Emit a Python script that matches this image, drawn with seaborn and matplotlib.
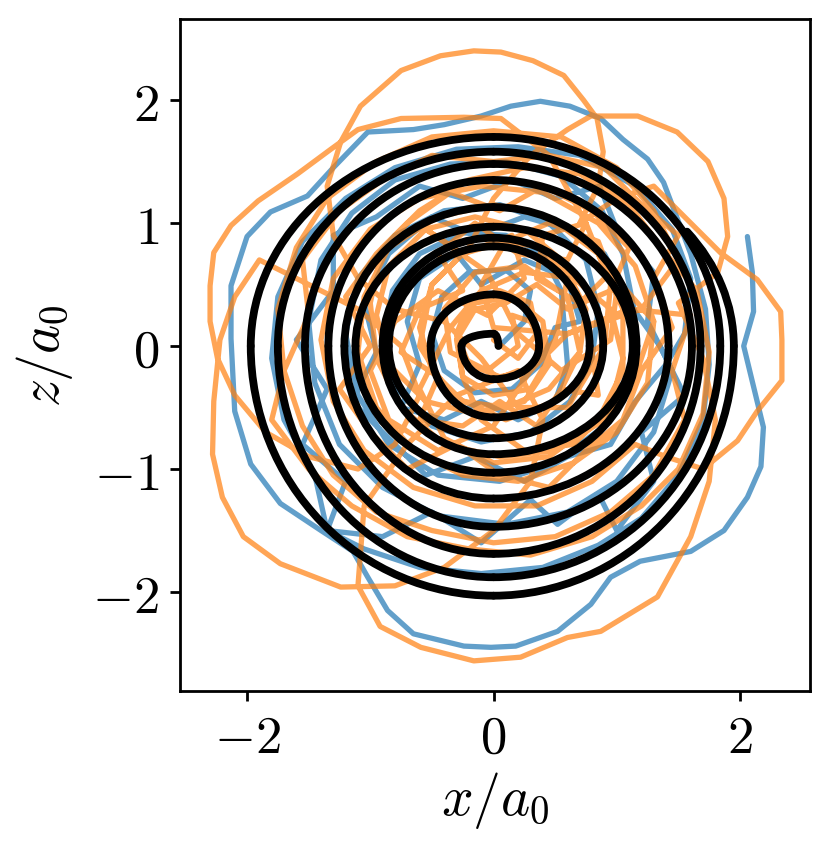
import numpy as np
import pandas as pd
import matplotlib
matplotlib.use("Agg")
import matplotlib.pyplot as plt
import seaborn as sns
from matplotlib.patches import Arc

# ---------------- data (units of a0) ----------------
# Black trajectory: radius of the curve where it crosses the axes directions,
# every quarter turn counter-clockwise starting at angle 0 (right), 90 (top), ...
black_quarter_r = [0.04, 0.10, 0.26, 0.27, 0.37, 0.42, 0.51, 0.58, 0.78, 0.81,
                   0.85, 0.75, 0.89, 0.88, 0.90, 0.88, 1.13, 0.97, 1.12, 1.03,
                   1.16, 1.13, 1.21, 1.24, 1.42, 1.35, 1.34, 1.47, 1.61, 1.48,
                   1.53, 1.69, 1.68, 1.58, 1.75, 1.88, 1.84, 1.70, 1.97, 2.03,
                   1.95]
black_end_x = 1.57
black_end_y = 0.93

blue_x = [0.05, 0.25, 0.30, 0.10, -0.20, -0.42, -0.50, -0.40, -0.15, 0.15, 0.38, 0.50,
          0.70, 0.60, 0.25, -0.10, -0.30, -0.60, -0.70, -0.60, -0.75, -0.40, -0.10, 0.20, 0.50, 0.60,
          0.55, 0.40, 0.10, -0.25, -0.60, -0.82, -0.90, -0.78, -0.50, -0.10, 0.30, 0.62, 0.80,
          0.85, 0.75, 0.45, 0.05, -0.40, -0.80, -1.10, -1.20, -1.10, -0.85, -0.45, 0.05, 0.50, 0.90, 1.10,
          1.15, 1.05, 0.88, 0.55, 0.10, -0.35, -0.80, -1.15, -1.40, -1.50, -1.45, -1.25, -0.90, -0.45, 0.10, 0.60, 1.00, 1.30, 1.45,
          1.25, 1.30, 1.00, 0.86, 0.50, 0.15, -0.25, -0.60, -0.95, -1.30, -1.30, -1.60, -1.35, -1.55, -1.20, -1.35, -0.90, -0.50, -0.10, 0.30, 0.52, 0.85, 1.00, 1.30, 1.20, 1.55,
          1.35, 1.10, 0.90, 0.60, 0.25, -0.15, -0.50, -0.85, -1.05, -0.95, -1.15, -0.85, -0.55, -0.15, 0.25, 0.60, 0.95, 1.15, 1.40,
          1.55, 1.60, 1.45, 1.15, 0.70, 0.20, -0.30, -0.80, -1.20, -1.55, -1.75, -1.80, -1.70, -1.45, -1.35, -1.05, -0.60, -0.10, 0.40, 0.85, 1.20, 1.50, 1.70, 1.75,
          1.72, 1.60, 1.38, 1.25, 1.05, 0.87, 0.62, 0.38, 0.14, -0.10, -0.40, -0.65, -1.02, -1.30, -1.51, -1.81, -2.00, -2.13, -2.13, -2.10, -1.97, -1.73, -1.40, -1.14,
          -1.02, -0.86, -0.65, -0.24, -0.02, 0.18, 0.52, 0.79, 0.95, 1.19, 1.60, 1.87, 2.06, 2.17, 2.19, 2.11, 2.03, 2.11, 2.10, 2.06]
blue_y = [0.00, 0.20, 0.45, 0.62, 0.60, 0.40, 0.10, -0.20, -0.38, -0.35, -0.15, 0.15,
          0.20, 0.55, 0.70, 0.50, 0.75, 0.55, 0.20, -0.15, -0.50, -0.60, -0.45, -0.60, -0.45, -0.15,
          0.45, 0.75, 0.90, 0.92, 0.75, 0.45, 0.05, -0.35, -0.65, -0.78, -0.70, -0.45, -0.10,
          0.30, 0.70, 1.00, 1.15, 1.10, 0.90, 0.55, 0.10, -0.40, -0.80, -1.05, -1.10, -0.95, -0.65, -0.25,
          0.25, 0.75, 1.10, 1.38, 1.50, 1.48, 1.35, 1.08, 0.70, 0.20, -0.30, -0.80, -1.15, -1.38, -1.45, -1.35, -1.10, -0.70, -0.20,
          0.20, 0.60, 0.95, 1.30, 1.20, 1.35, 1.20, 1.30, 1.05, 0.90, 0.45, 0.05, -0.35, -0.80, -1.10, -1.50, -1.55, -1.35, -1.60, -1.25, -1.45, -1.20, -1.50, -1.10, -0.70, -0.40,
          0.00, 0.35, 0.75, 0.95, 1.05, 0.90, 1.05, 0.75, 0.35, -0.05, -0.45, -0.75, -1.05, -0.90, -1.10, -0.90, -0.80, -0.45, -0.15,
          0.10, 0.55, 0.95, 1.30, 1.55, 1.62, 1.60, 1.45, 1.20, 0.85, 0.40, -0.10, -0.60, -1.05, -1.50, -1.65, -1.80, -1.85, -1.80, -1.62, -1.40, -1.05, -0.60, -0.15,
          0.30, 0.75, 1.33, 1.52, 1.68, 1.85, 1.95, 1.99, 1.95, 1.87, 1.80, 1.76, 1.74, 1.45, 1.22, 1.09, 0.89, 0.49, 0.06, -0.53, -0.96, -1.28, -1.50, -1.67,
          -1.88, -2.15, -2.34, -2.44, -2.45, -2.44, -2.32, -2.10, -1.88, -1.75, -1.67, -1.50, -1.23, -0.98, -0.66, -0.33, 0.00, 0.28, 0.60, 0.89]

orange_x = [0.00, 0.20, 0.35, 0.30, 0.05, -0.20, -0.30, -0.20, 0.05, 0.30, 0.50, 0.55,
            0.60, 0.40, 0.10, -0.25, -0.50, -0.60, -0.50, -0.25, 0.10, 0.45, 0.70, 0.75,
            0.55, 0.25, -0.15, -0.55, -0.85, -0.95, -0.85, -0.55, -0.15, 0.25, 0.45, 0.40, 0.15, -0.15, -0.30,
            -0.25, -0.10, 0.25, 0.65, 0.95, 1.05, 0.95, 0.65, 0.25, -0.10, -0.35,
            -0.60, -0.40, 0.00, 0.45, 0.85, 1.05, 1.05, 0.85, 0.45, 0.00, -0.45, -0.85, -1.05, -1.10, -0.95, -0.65, -0.25, 0.20,
            0.65, 1.00, 1.25, 1.30, 1.15, 0.85, 0.40, -0.10, -0.60, -1.00, -1.30, -1.40, -1.30, -1.05, -0.65, -0.15, 0.35, 0.80, 1.15,
            1.40, 1.70, 1.98, 2.14, 2.34, 2.34, 2.33, 2.14, 1.84, 1.60, 1.30, 1.00,
            0.70, 0.85, 0.89, 0.84, 0.73, 0.57, 0.32, 0.06, -0.16, -0.43, -0.75, -1.08, -1.24, -1.35, -1.30, -1.10, -0.80,
            -0.40, -0.10, 0.20, 0.60, 0.90, 0.95, 0.75, 0.45,
            0.06, -0.24, -0.75, -1.10, -1.32, -1.59, -1.91, -2.13, -2.27, -2.30, -2.30, -2.24, -2.10, -1.85, -1.50, -1.10,
            -0.80, -0.60, -0.75, -1.10, -1.50, -1.90, -2.10, -2.22, -2.27, -2.28, -2.20, -2.03, -1.73, -1.24, -0.80, -0.40, 0.00, 0.30, 0.40,
            0.20, -0.30, -0.70, -1.05, -1.10, -0.92, -0.59, -0.16, 0.22, 0.60, 0.87, 1.33, 1.60, 1.75, 1.80, 1.70, 1.50,
            1.82, 1.90, 1.87, 1.74, 1.49, 1.17, 0.79, 0.60, 0.30, 0.00, -0.20,
            -0.50, -0.60, -0.35, 0.10, 0.50, 0.70, 0.60, 0.25, -0.15, -0.40, -0.35, -0.05, 0.20, 0.15,
            0.30, 0.45, 0.30, 0.00, -0.25, -0.30, -0.15, 0.10, 0.35, 0.60,
            0.95, 1.10, 0.80, 0.40, 0.05, -0.35, -0.70, -0.95, -1.20, -1.00, -1.25, -1.00, -0.70, -0.30, 0.05, 0.45, 0.75, 1.05, 1.20, 1.45, 1.30,
            1.50, 1.20, 0.90, 0.45, 0.00, -0.50, -0.90, -1.25, -1.55, -1.50, -1.70, -1.55, -1.30, -0.95, -0.50, 0.00, 0.50, 0.95, 1.30, 1.55, 1.45, 1.60,
            1.10, 0.60, 0.30, 0.00, -0.45, -0.85, -1.00, -0.80, -0.45, -0.05, 0.25, 0.15, -0.25, -0.55,
            -0.05, 0.20, 0.55, 0.95, 1.00, 0.85, 0.45, 0.10, -0.10, 0.00,
            0.60, 1.20, 1.50, 1.30, 1.00, 0.55, 0.00, -0.50, -0.95, -1.35, -1.60, -1.75, -1.70, -1.80, -1.50, -1.15, -0.70, -0.20, 0.30, 0.80, 1.20, 1.50, 1.70, 1.75, 1.65,
            1.40, 1.10, 0.70, 0.25, -0.20, -0.60, -0.90, -1.00, -0.95, -0.75, -0.40, 0.05, 0.50, 0.90, 1.15, 1.30,
            0.95, 0.70, 0.35, 0.40, 0.75, 0.60, 0.20, -0.15, -0.45, -0.25, -0.60, -0.75, -0.45, -0.60, -0.25, 0.05, 0.35, 0.55, 0.85, 0.80]
orange_y = [0.05, -0.10, 0.10, 0.35, 0.45, 0.35, 0.10, -0.15, -0.25, -0.20, 0.05, 0.30,
            0.55, 0.80, 0.85, 0.75, 0.50, 0.15, -0.20, -0.45, -0.50, -0.35, -0.05, 0.30,
            0.70, 0.95, 1.05, 0.95, 0.65, 0.25, -0.15, -0.45, -0.55, -0.45, -0.15, 0.20, 0.40, 0.35, 0.10,
            -0.25, -0.60, -0.85, -0.80, -0.50, -0.10, 0.30, 0.55, 0.60, 0.45, 0.15,
            -0.35, -0.75, -0.95, -0.90, -0.60, -0.20, 0.30, 0.75, 1.05, 1.15, 1.05, 0.80, 0.40, -0.05, -0.50, -0.85, -1.05, -1.10,
            -0.95, -0.70, -0.30, 0.20, 0.65, 1.00, 1.25, 1.30, 1.20, 0.95, 0.55, 0.05, -0.45, -0.85, -1.15, -1.30, -1.30, -1.10, -0.80,
            -0.90, -1.00, -0.77, -0.53, -0.28, 0.05, 0.28, 0.54, 0.76, 1.00, 1.30, 1.20,
            1.00, 1.30, 1.58, 1.85, 2.00, 2.20, 2.32, 2.39, 2.40, 2.36, 2.24, 1.95, 1.66, 1.30, 0.90, 0.55, 0.30,
            0.20, -0.10, -0.50, -0.50, 0.00, 0.50, 1.00, 1.55,
            1.85, 1.86, 1.85, 1.76, 1.60, 1.40, 1.18, 0.98, 0.76, 0.49, 0.20, -0.10, -0.40, -0.70, -0.90, -1.00,
            -0.80, -0.40, 0.00, 0.30, 0.50, 0.70, 0.40, 0.05, -0.45, -0.88, -1.23, -1.55, -1.77, -1.96, -1.95, -1.80, -1.50, -1.10, -0.60,
            -0.20, -0.40, -0.80, -1.30, -1.95, -2.28, -2.45, -2.56, -2.53, -2.37, -2.32, -2.04, -1.55, -1.10, -0.60, -0.10, 0.35,
            0.60, 0.89, 1.20, 1.50, 1.74, 1.87, 1.87, 1.76, 1.55, 1.20, 0.80,
            0.50, 0.00, -0.40, -0.60, -0.45, -0.05, 0.40, 0.65, 0.60, 0.30, -0.05, -0.20, 0.00, 0.25,
            0.20, -0.10, -0.35, -0.40, -0.25, 0.05, 0.30, 0.35, 0.50, 0.30,
            0.45, 0.80, 1.10, 1.30, 1.10, 1.25, 1.00, 0.75, 0.40, 0.00, -0.35, -0.70, -1.00, -0.80, -1.05, -1.15, -0.85, -0.60, -0.20, 0.15, 0.55,
            0.90, 1.15, 1.45, 1.55, 1.50, 1.55, 1.35, 1.10, 0.70, 0.25, -0.20, -0.65, -1.05, -1.35, -1.50, -1.60, -1.55, -1.35, -1.05, -0.60, -0.20, 0.25,
            0.30, 0.10, -0.20, -0.65, -0.85, -0.60, -0.20, 0.20, 0.45, 0.25, 0.55, 0.90, 0.75, 0.95,
            0.60, 0.10, -0.20, 0.05, 0.45, 0.85, 1.00, 0.85, 0.50, 0.15,
            0.10, 0.30, 0.70, 1.10, 1.45, 1.70, 1.75, 1.70, 1.50, 1.20, 0.80, 0.30, -0.20, -0.60, -1.00, -1.30, -1.55, -1.65, -1.70, -1.55, -1.30, -1.00, -0.55, -0.05, 0.45,
            0.75, 1.15, 1.40, 1.45, 1.35, 1.10, 0.80, 0.35, -0.10, -0.50, -0.80, -0.90, -0.85, -0.60, -0.25, 0.20,
            0.60, 0.35, 0.55, 0.90, 1.00, 0.70, 0.75, 1.00, 0.75, 0.45, 0.30, -0.05, -0.25, -0.60, -0.65, -0.45, -0.65, -0.35, -0.40, -0.05]

x_ticks = [-2, 0, 2]
y_ticks = [-2, -1, 0, 1, 2]
x_label = r"$x/a_0$"
y_label = r"$z/a_0$"

# ---------------- figure ----------------
sns.set_theme(style="ticks")
plt.rcParams["font.family"] = ["DejaVu Serif"]
plt.rcParams["mathtext.fontset"] = "cm"

W, H, DPI = 832, 854, 200
fig = plt.figure(figsize=(W / DPI, H / DPI), dpi=DPI)
ax = fig.add_axes([180 / W, 1 - 692 / H, 630 / W, 672 / H])

blue_df = pd.DataFrame({"x": blue_x, "y": blue_y})
orange_df = pd.DataFrame({"x": orange_x, "y": orange_y})

sns.lineplot(data=blue_df, x="x", y="y", sort=False, estimator=None,
             color="tab:blue", alpha=0.7, lw=1.9, ax=ax, zorder=1)
sns.lineplot(data=orange_df, x="x", y="y", sort=False, estimator=None,
             color="tab:orange", alpha=0.7, lw=1.9, ax=ax, zorder=2)

# black spiral: chain of quarter-ellipse arcs through the read crossings
for i in range(len(black_quarter_r) - 1):
    a = (90 * i) % 360
    r0, r1 = black_quarter_r[i], black_quarter_r[i + 1]
    if a in (0, 180):
        rx, ry = r0, r1
    else:
        rx, ry = r1, r0
    ax.add_patch(Arc((0, 0), 2 * rx, 2 * ry, theta1=a, theta2=a + 90,
                     color="black", lw=2.8, zorder=3, capstyle="round"))
rx = black_quarter_r[-1]
ry = black_end_y / np.sqrt(1 - (black_end_x / rx) ** 2)
ax.add_patch(Arc((0, 0), 2 * rx, 2 * ry, theta1=0,
                 theta2=np.degrees(np.arctan2(black_end_y, black_end_x)),
                 color="black", lw=2.8, zorder=3, capstyle="round"))

ax.set_xlim(-2.544, 2.568)
ax.set_ylim(-2.805, 2.659)
ax.set_xticks(x_ticks)
ax.set_xticklabels([rf"${v}$" if v >= 0 else rf"$-{abs(v)}$" for v in x_ticks])
ax.set_yticks(y_ticks)
ax.set_yticklabels([rf"${v}$" if v >= 0 else rf"$-{abs(v)}$" for v in y_ticks])
ax.tick_params(axis="both", direction="out", length=3.6, width=1.0,
               labelsize=19, color="black", labelcolor="black", pad=4)
for s in ax.spines.values():
    s.set_visible(True)
    s.set_linewidth(1.0)
    s.set_color("black")
ax.set_xlabel(x_label, fontsize=20, color="black", labelpad=2)
ax.set_ylabel(y_label, fontsize=20, color="black", labelpad=6)
ax.grid(False)

fig.savefig("out.png", dpi=DPI)
